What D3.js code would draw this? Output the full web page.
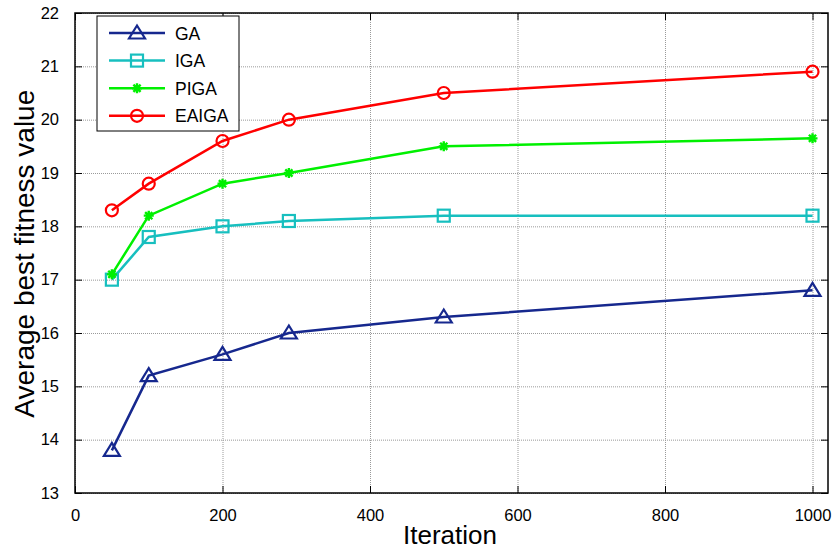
<!DOCTYPE html>
<html>
<head>
<meta charset="utf-8">
<script src="https://cdn.jsdelivr.net/npm/d3@7"></script>
<style>
  body { margin: 0; background: #fff; }
  svg { display: block; font-family: "Liberation Sans", Arial, sans-serif; }
  .grid line { stroke: #9a9a9a; stroke-width: 1; stroke-dasharray: 1,1; }
  .grid path { display: none; }
</style>
</head>
<body>
<svg id="chart" width="832" height="550"></svg>
<script>
// Data
const iterations = [50, 100, 200, 290, 500, 1000];
const gaValues = [13.8, 15.2, 15.6, 16.0, 16.3, 16.8];
const igaValues = [17.0, 17.8, 18.0, 18.1, 18.2, 18.2];
const pigaValues = [17.1, 18.2, 18.8, 19.0, 19.5, 19.65];
const eaigaValues = [18.3, 18.8, 19.6, 20.0, 20.5, 20.9];
const xTicks = [0, 200, 400, 600, 800, 1000];
const yTicks = [13, 14, 15, 16, 17, 18, 19, 20, 21, 22];

const series = [
    { name: 'GA', values: gaValues, color: '#16288e', marker: 'triangle' },
    { name: 'IGA', values: igaValues, color: '#17bfbf', marker: 'square' },
    { name: 'PIGA', values: pigaValues, color: '#00f000', marker: 'star' },
    { name: 'EAIGA', values: eaigaValues, color: '#ff0000', marker: 'circle' }
];

const margin = { left: 75, right: 4, top: 13, bottom: 57 };
const width = 832 - margin.left - margin.right;
const height = 550 - margin.top - margin.bottom;

const svg = d3.select('#chart');
const g = svg.append('g').attr('transform', `translate(${margin.left},${margin.top})`);

const x = d3.scaleLinear().domain([0, 1021]).range([0, width]);
const y = d3.scaleLinear().domain([13, 22]).range([height, 0]);

// grid
g.append('g').attr('class', 'grid')
    .call(d3.axisLeft(y).tickValues(yTicks).tickSize(-width).tickFormat(''));
g.append('g').attr('class', 'grid')
    .attr('transform', `translate(0,${height})`)
    .call(d3.axisBottom(x).tickValues(xTicks).tickSize(-height).tickFormat(''));

// inward ticks on all four sides
const tickLen = 7;
const axisStyle = sel => {
    sel.select('.domain').remove();
    sel.selectAll('.tick line').attr('stroke', '#000').attr('stroke-width', 1);
    sel.selectAll('.tick text').attr('fill', '#000').style('font-size', '16.5px');
};
g.append('g').attr('transform', `translate(0,${height})`)
    .call(d3.axisBottom(x).tickValues(xTicks).tickSizeInner(-tickLen).tickSizeOuter(0)
        .tickPadding(16).tickFormat(d3.format('d')))
    .call(axisStyle);
g.append('g')
    .call(d3.axisTop(x).tickValues(xTicks).tickSizeInner(-tickLen).tickSizeOuter(0).tickFormat(''))
    .call(axisStyle);
g.append('g')
    .call(d3.axisLeft(y).tickValues(yTicks).tickSizeInner(-tickLen).tickSizeOuter(0).tickPadding(16))
    .call(axisStyle);
g.append('g').attr('transform', `translate(${width},0)`)
    .call(d3.axisRight(y).tickValues(yTicks).tickSizeInner(-tickLen).tickSizeOuter(0).tickFormat(''))
    .call(axisStyle);

// box
g.append('rect')
    .attr('width', width).attr('height', height)
    .attr('fill', 'none').attr('stroke', '#000').attr('stroke-width', 1.5);

function drawMarker(sel, type, color) {
    if (type === 'triangle') {
        sel.append('path').attr('d', 'M0,-7.5L8,5.5L-8,5.5Z')
            .attr('fill', 'none').attr('stroke', color).attr('stroke-width', 2.2);
    } else if (type === 'square') {
        sel.append('rect').attr('x', -6).attr('y', -6).attr('width', 12).attr('height', 12)
            .attr('fill', 'none').attr('stroke', color).attr('stroke-width', 2.2);
    } else if (type === 'circle') {
        sel.append('circle').attr('r', 6)
            .attr('fill', 'none').attr('stroke', color).attr('stroke-width', 2.2);
    } else if (type === 'star') {
        sel.append('path').attr('d', 'M-5,0H5M0,-5V5M-3.6,-3.6L3.6,3.6M-3.6,3.6L3.6,-3.6')
            .attr('fill', 'none').attr('stroke', color).attr('stroke-width', 2.4);
    }
}

const line = d3.line().x((d, i) => x(iterations[i])).y(d => y(d));

series.forEach(s => {
    g.append('path')
        .datum(s.values)
        .attr('d', line)
        .attr('fill', 'none')
        .attr('stroke', s.color)
        .attr('stroke-width', 2.5);
    s.values.forEach((v, i) => {
        const m = g.append('g').attr('transform', `translate(${x(iterations[i])},${y(v)})`);
        drawMarker(m, s.marker, s.color);
    });
});

// legend
const legend = svg.append('g').attr('transform', 'translate(97,16)');
legend.append('rect')
    .attr('width', 142).attr('height', 115)
    .attr('fill', '#fff').attr('stroke', '#000').attr('stroke-width', 1);
series.forEach((s, i) => {
    const ly = 17 + i * 27.6;
    legend.append('line')
        .attr('x1', 12).attr('x2', 68).attr('y1', ly).attr('y2', ly)
        .attr('stroke', s.color).attr('stroke-width', 2.5);
    drawMarker(legend.append('g').attr('transform', `translate(40,${ly})`), s.marker, s.color);
    legend.append('text')
        .attr('x', 78).attr('y', ly + 6.5)
        .style('font-size', '17.5px')
        .text(s.name);
});

// axis labels
svg.append('text')
    .attr('x', 450).attr('y', 544)
    .attr('text-anchor', 'middle')
    .style('font-size', '26px')
    .text('Iteration');
svg.append('text')
    .attr('transform', 'translate(34,253.7) rotate(-90)')
    .attr('text-anchor', 'middle')
    .style('font-size', '28px')
    .text('Average best fitness value');
</script>
</body>
</html>
